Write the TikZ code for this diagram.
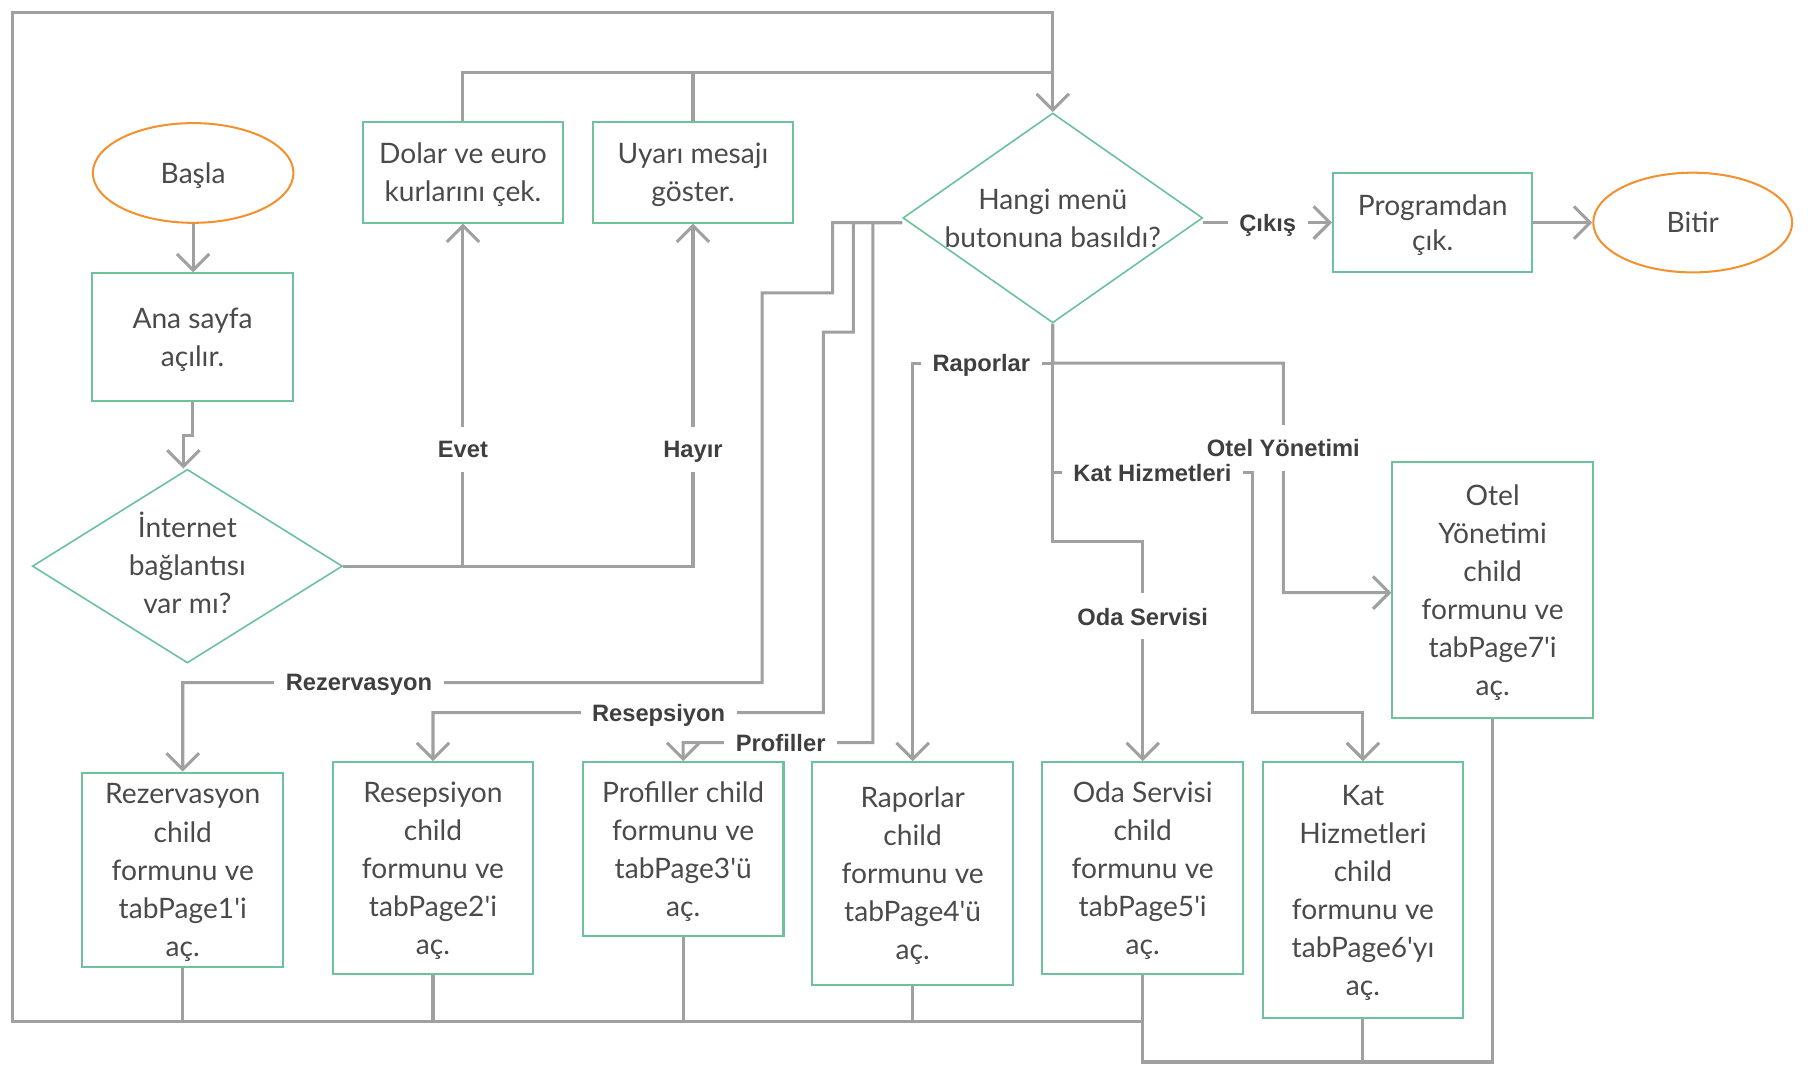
\documentclass[tikz,border=0pt]{standalone}
\usepackage{fontspec}
\setmainfont{Lato}
\newfontfamily\lblfont{Liberation Sans}
\usetikzlibrary{shapes.geometric,arrows.meta}
\definecolor{boxgreen}{HTML}{6DC19B}
\definecolor{termorange}{HTML}{F39130}
\definecolor{linegray}{HTML}{A0A0A0}
\definecolor{txtgray}{HTML}{4A4A4A}
\definecolor{lblgray}{HTML}{3F3F3F}
\begin{document}
\begin{tikzpicture}[x=0.02cm, y=-0.02cm,
  every node/.style={text=txtgray},
  ntext/.style={align=center, text=txtgray, text depth=-0.06cm, font=\fontsize{13.9pt}{18.8pt}\selectfont},
  proc/.style={ntext, draw=boxgreen, line width=1pt, minimum width=3.48cm, inner sep=0pt},
  term/.style={ntext, ellipse, draw=termorange, line width=1pt, minimum width=3.48cm, minimum height=1.73cm, inner sep=0pt},
  decision/.style={diamond, draw=boxgreen, line width=0.8pt, inner sep=0pt},
  conn/.style={draw=linegray, line width=1.5pt},
  arr/.style={conn, -{Straight Barb[length=8pt,width=16pt]}},
  hlbl/.style={fill=white, text=lblgray, text depth=0pt, font=\lblfont\bfseries\fontsize{11.7pt}{14pt}\selectfont, inner xsep=0.2cm, inner ysep=0.08cm},
  vlbl/.style={hlbl, inner xsep=0.06cm, inner ysep=0.25cm}
]
\useasboundingbox (0,0) rectangle (1568,933);

% nodes
\node[term] (basla) at (167.5,150) {Başla};
\node[proc, minimum height=2.22cm] (ana) at (167,292.5) {Ana sayfa\\açılır.};
\node[decision, minimum width=5.38cm, minimum height=3.36cm,
      label={[ntext, yshift=0.06cm]center:{İnternet\\bağlantısı\\var mı?}}] (inet) at (162.5,491) {};
\node[proc, minimum width=3.46cm, minimum height=1.74cm] (dolar) at (401.5,149.5) {Dolar ve euro\\kurlarını çek.};
\node[proc, minimum height=1.74cm] (uyari) at (601,149.5) {Uyarı mesajı\\göster.};
\node[decision, minimum width=5.2cm, minimum height=3.64cm,
      label={[ntext]center:{Hangi menü\\butonuna basıldı?}}] (hangi) at (913,189) {};
\node[proc, minimum width=3.46cm, minimum height=1.72cm, font=\fontsize{13.9pt}{17pt}\selectfont] (prog) at (1242.5,193) {Programdan\\çık.};
\node[term, minimum width=3.45cm] (bitir) at (1468,193) {Bitir};

\node[proc, minimum height=3.38cm] (rez) at (158.5,754.5) {Rezervasyon\\child\\formunu ve\\tabPage1\textquotesingle i\\aç.};
\node[proc, minimum height=3.68cm] (res) at (375.5,753) {Resepsiyon\\child\\formunu ve\\tabPage2\textquotesingle i\\aç.};
\node[proc, minimum height=3.02cm] (prof) at (592.5,736.5) {Profiller child\\formunu ve\\tabPage3\textquotesingle ü\\aç.};
\node[proc, minimum height=3.86cm] (rap) at (791.5,757.5) {Raporlar\\child\\formunu ve\\tabPage4\textquotesingle ü\\aç.};
\node[proc, minimum height=3.68cm] (oda) at (991,753) {Oda Servisi\\child\\formunu ve\\tabPage5\textquotesingle i\\aç.};
\node[proc, minimum height=4.44cm] (kat) at (1182,772) {Kat\\Hizmetleri\\child\\formunu ve\\tabPage6\textquotesingle yı\\aç.};
\node[proc, minimum height=4.44cm] (otel) at (1294.5,512) {Otel\\Yönetimi\\child\\formunu ve\\tabPage7\textquotesingle i\\aç.};

% helper coordinates
\coordinate (tl) at (11,11);
\coordinate (top1) at (913,11);
\coordinate (top2) at (913,63);
\coordinate (bl) at (11,886);
\coordinate (lowy) at (0,921);
\coordinate (hw) at ([yshift=-0.08cm]hangi.west);

% start
\draw[arr] (basla.south) -- (basla.south |- ana.north);
\draw[arr] (ana.south) -- ++(0,29) -| ([xshift=-0.07cm]inet.north);
\draw[arr] (inet.east) -| node[vlbl,pos=0.67]{Evet} (dolar.south);
\draw[arr] (inet.east) -| node[vlbl,pos=0.67]{Hayır} (uyari.south);
\draw[conn] (dolar.north) |- (top2);
\draw[conn] (uyari.north) -- (uyari.north |- top2);

% return loop
\draw[arr] (oda.south) -- (oda.south |- bl) -- (bl) -- (tl) -- (top1) -- (hangi.north);
\foreach \n in {rez,res,prof,rap} \draw[conn] (\n.south) -- (\n.south |- bl);
\draw[conn] (otel.south) |- (oda.south |- lowy) -- (oda.south |- bl);
\draw[conn] (kat.south) -- (kat.south |- lowy);

% exit
\draw[arr] (hangi.east |- prog.west) -- node[hlbl]{Çıkış} (prog.west);
\draw[arr] (prog.east) -- (bitir.west);

% left branches
\draw[arr] (hw) -- (722,193) -- (722,254) -- (661,254) -- (661,592) -| node[hlbl,pos=0.348]{Rezervasyon} (rez.north);
\draw[arr] (hw) -- (740,193) -- (740,288) -- (714,288) -- (714,618) -| node[hlbl,pos=0.211]{Resepsiyon} (res.north);
\draw[arr] (hw) -- (757,193) -- (757,644) -| node[hlbl,pos=0.243]{Profiller} (prof.north);

% down branches
\draw[arr] (hangi.south) -- (913,315) -| node[hlbl,pos=0.255]{Raporlar} (rap.north);
\draw[arr] (hangi.south) -- (913,315) -- (1113,315) -- node[vlbl,pos=0.37]{Otel Yönetimi} (1113,514) -- ([yshift=-0.04cm]otel.west);
\draw[arr] (hangi.south) -- (913,410) -- node[hlbl]{Kat Hizmetleri} (1086,410) -- (1086,618) -| (kat.north);
\draw[arr] (hangi.south) -- (913,470) -| node[vlbl,pos=0.67]{Oda Servisi} (oda.north);
\end{tikzpicture}
\end{document}
